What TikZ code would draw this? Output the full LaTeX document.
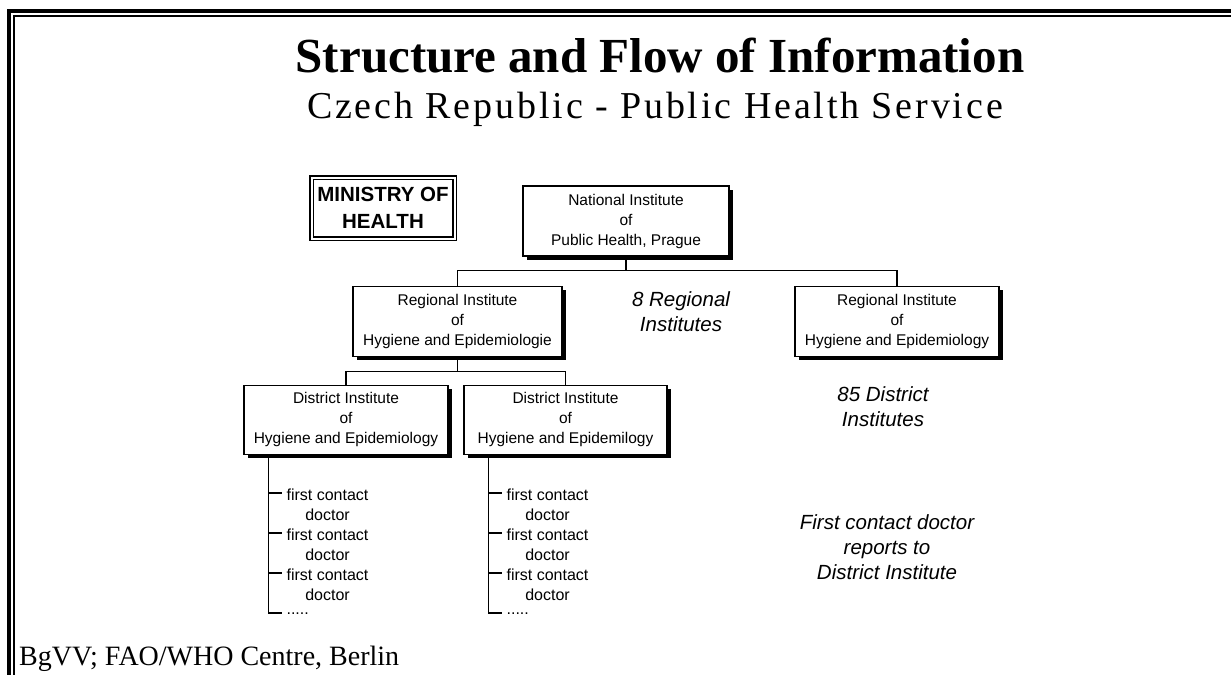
\documentclass[tikz,border=0pt]{standalone}
\usepackage{fontspec}
\setmainfont{Liberation Serif}
\newfontfamily\arialfont{Liberation Sans}
\newfontfamily\widefont[LetterSpace=7.5]{Liberation Serif}
\usetikzlibrary{
    positioning,
    shadows
}
\tikzset{
    % Institute box with black drop shadow
    instbox/.style={
        rectangle,
        draw=black,
        fill=white,
        line width=1.2pt,
        font=\arialfont\fontsize{15.5}{20}\selectfont,
        minimum width=#1,
        minimum height=70pt,
        align=center,
        inner sep=2pt,
        drop shadow={shadow xshift=4pt, shadow yshift=-4pt, fill=black, opacity=1}
    },
    instbox/.default=204pt,
    % Ministry box with double frame
    ministrybox/.style={
        rectangle,
        draw=black,
        double,
        double distance=2pt,
        line width=1.3pt,
        font=\arialfont\bfseries\fontsize{20.5}{27}\selectfont,
        minimum width=143pt,
        minimum height=61pt,
        align=center,
        inner sep=2pt
    },
    % Tree lines
    orgline/.style={
        line width=1.2pt,
        color=black
    },
    % First contact doctor entries
    doctor/.style={
        inner sep=0pt,
        align=center,
        font=\arialfont\fontsize{16}{19.5}\selectfont
    },
    % Italic side notes
    note/.style={
        align=center,
        font=\arialfont\itshape\fontsize{20.5}{25}\selectfont
    }
}

\begin{document}
\begin{tikzpicture}[x=1pt, y=-1pt]

    \useasboundingbox (0,0) rectangle (1231,675);

    % Page frame
    \draw[line width=3.7pt] (1231,11.3) -| (9.2,675);
    \draw[line width=1.7pt] (1231,15.8) -| (14.2,675);

    % Titles
    \node[anchor=base, inner sep=0pt, font=\bfseries\fontsize{49}{56}\selectfont] (title) at (660,72) {Structure and Flow of Information};
    \node[anchor=base, inner sep=0pt, font=\widefont\fontsize{38}{42}\selectfont] (subtitle) at (655,118) {Czech Republic - Public Health Service};

    % Ministry
    \node[ministrybox] (ministry) at (383,208) {MINISTRY OF\\HEALTH};

    % National institute
    \node[instbox=206pt] (national) at (626,221) {National Institute\\of\\Public Health, Prague};

    % Regional institutes
    \node[instbox=209pt, below=29pt of national, xshift=-168.5pt] (regL) {Regional Institute\\of\\Hygiene and Epidemiologie};
    \node[instbox=204pt, below=29pt of national, xshift=271pt] (regR) {Regional Institute\\of\\Hygiene and Epidemiology};

    % District institutes
    \node[instbox=204pt, minimum height=69pt, below=28pt of regL, xshift=-111.5pt] (distL) {District Institute\\of\\Hygiene and Epidemiology};
    \node[instbox=203pt, minimum height=69pt, below=28pt of regL, xshift=108pt] (distR) {District Institute\\of\\Hygiene and Epidemilogy};

    % Side notes
    \node[note] (nRegional) at (681,312) {8 Regional\\Institutes};
    \node[note] (nDistrict) at (883,407) {85 District\\Institutes};
    \node[note] (nReports) at (887,547) {First contact doctor\\reports to\\District Institute};

    % Tree trunks under district institutes
    \coordinate (trunkL) at ([xshift=25pt]distL.south west);
    \coordinate (trunkR) at ([xshift=25pt]distR.south west);

    % First contact doctors
    \node[doctor, below right=34pt and 18pt of trunkL] (docL1) {first contact\\doctor};
    \node[doctor, below right=74pt and 18pt of trunkL] (docL2) {first contact\\doctor};
    \node[doctor, below right=114pt and 18pt of trunkL] (docL3) {first contact\\doctor};
    \node[doctor, below right=158pt and 18pt of trunkL] (dotsL) {.....};
    \node[doctor, below right=34pt and 18pt of trunkR] (docR1) {first contact\\doctor};
    \node[doctor, below right=74pt and 18pt of trunkR] (docR2) {first contact\\doctor};
    \node[doctor, below right=114pt and 18pt of trunkR] (docR3) {first contact\\doctor};
    \node[doctor, below right=158pt and 18pt of trunkR] (dotsR) {.....};

    % Footer
    \node[anchor=base west, inner sep=0pt, font=\fontsize{28}{34}\selectfont] (credit) at (19,665) {BgVV; FAO/WHO Centre, Berlin};

    % National to regional
    \coordinate (busReg) at ([yshift=-14pt]national.south);
    \draw[orgline] (national.south) -- (busReg) -| (regL.north);
    \draw[orgline] (busReg) -| (regR.north);

    % Regional to district
    \coordinate (busDist) at ([yshift=-15pt]regL.south);
    \draw[orgline] (regL.south) -- (busDist) -| (distL.north);
    \draw[orgline] (busDist) -| (distR.north);

    % District to doctors
    \draw[orgline] (trunkL) |- ([xshift=-4pt]dotsL.north west);
    \draw[orgline] (trunkL) |- ([xshift=-4pt, yshift=-4pt]docL1.north west);
    \draw[orgline] (trunkL) |- ([xshift=-4pt, yshift=-4pt]docL2.north west);
    \draw[orgline] (trunkL) |- ([xshift=-4pt, yshift=-4pt]docL3.north west);
    \draw[orgline] (trunkR) |- ([xshift=-4pt]dotsR.north west);
    \draw[orgline] (trunkR) |- ([xshift=-4pt, yshift=-4pt]docR1.north west);
    \draw[orgline] (trunkR) |- ([xshift=-4pt, yshift=-4pt]docR2.north west);
    \draw[orgline] (trunkR) |- ([xshift=-4pt, yshift=-4pt]docR3.north west);

\end{tikzpicture}
\end{document}
